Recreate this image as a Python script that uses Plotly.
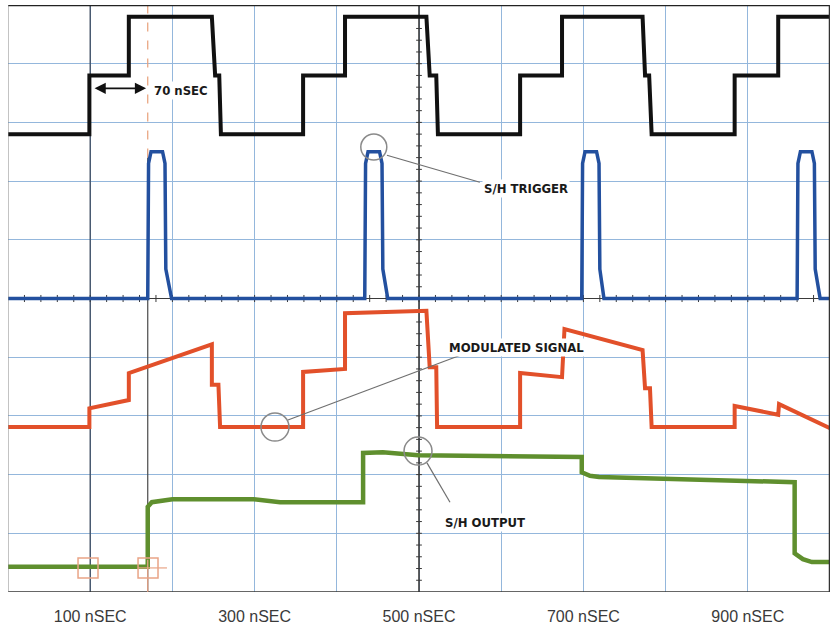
import numpy as np
import plotly.graph_objects as go

# ---- data (time in nSEC, amplitude in screen divisions 0..10) ----
clock_t = [0, 99, 99, 147, 147, 248, 252, 257, 259, 359, 359, 410, 410, 509, 513, 521, 523,
           623, 623, 674, 674, 772, 775, 780, 783, 884, 884, 937, 937, 1000]
clock_v = [7.8, 7.8, 8.8, 8.8, 9.8, 9.8, 8.8, 8.8, 7.8, 7.8, 8.8, 8.8, 9.8, 9.8, 8.8, 8.8, 7.8,
           7.8, 8.8, 8.8, 9.8, 9.8, 8.8, 8.8, 7.8, 7.8, 8.8, 8.8, 9.8, 9.8]

trig_t = [0, 170, 171, 174, 188, 191, 192, 199, 434, 435, 438, 452, 455, 456, 462,
          698, 699, 702, 716, 719, 720, 725, 960, 961, 964, 978, 981, 982, 988, 1000]
trig_v = [5.0, 5.0, 7.3, 7.5, 7.5, 7.3, 5.5, 5.0, 5.0, 7.3, 7.5, 7.5, 7.3, 5.5, 5.0,
          5.0, 7.3, 7.5, 7.5, 7.3, 5.5, 5.0, 5.0, 7.3, 7.5, 7.5, 7.3, 5.5, 5.0, 5.0]

mod_t = [0, 99, 99, 147, 147, 248, 248, 256, 258, 359, 359, 410, 410, 509, 513, 521, 522,
         623, 623, 674, 677, 772, 775, 781, 783, 884, 884, 937, 938, 1000]
mod_v = [2.81, 2.81, 3.13, 3.27, 3.73, 4.22, 3.53, 3.53, 2.81, 2.81, 3.75, 3.8, 4.75, 4.79, 3.83, 3.83, 2.81,
         2.81, 3.73, 3.66, 4.48, 4.12, 3.47, 3.47, 2.81, 2.81, 3.17, 3.02, 3.2, 2.79]

sh_t = [0, 170, 170, 175, 200, 299, 331, 432, 432, 456, 499, 698, 698, 708, 719, 957, 957, 967, 978, 1000]
sh_v = [0.43, 0.43, 1.45, 1.53, 1.58, 1.58, 1.53, 1.53, 2.37, 2.38, 2.33, 2.30, 2.04, 1.98, 1.96, 1.87,
        0.66, 0.56, 0.51, 0.51]

tick_vals = [0, 100, 200, 300, 400, 500, 600, 700, 800, 900, 1000]
tick_text = ["", "100 nSEC", "", "300 nSEC", "", "500 nSEC", "", "700 nSEC", "", "900 nSEC", ""]

X0, X1, Y0, Y1 = 0, 1000, 0, 10
GRID = "#94b7dc"
LABEL_FONT = dict(family="Liberation Sans Narrow, DejaVu Sans Condensed, Arial Narrow, sans-serif",
                  size=13, color="#1a1a1a")

fig = go.Figure()
fig.add_trace(go.Scatter(x=clock_t, y=clock_v, mode="lines", line=dict(color="#111111", width=4), name="CLOCK"))
fig.add_trace(go.Scatter(x=trig_t, y=trig_v, mode="lines", line=dict(color="#23509f", width=3.5), name="S/H TRIGGER"))
fig.add_trace(go.Scatter(x=mod_t, y=mod_v, mode="lines", line=dict(color="#e2502a", width=4), name="MODULATED SIGNAL"))
fig.add_trace(go.Scatter(x=sh_t, y=sh_v, mode="lines", line=dict(color="#5f8f2e", width=4.5), name="S/H OUTPUT"))

shapes = []
# dark reference lines
shapes.append(dict(type="line", x0=500, x1=500, y0=Y0, y1=Y1, line=dict(color="#3a3a3a", width=1.6), layer="between"))
shapes.append(dict(type="line", x0=X0, x1=X1, y0=5, y1=5, line=dict(color="#3a3a3a", width=1.2), layer="between"))
shapes.append(dict(type="line", x0=100, x1=100, y0=Y0, y1=Y1, line=dict(color="#3c4a5e", width=1.3), layer="between"))
shapes.append(dict(type="line", x0=170, x1=170, y0=Y0, y1=7.4, line=dict(color="#4a4a4a", width=1.2), layer="between"))
shapes.append(dict(type="line", x0=170, x1=170, y0=7.4, y1=Y1, line=dict(color="#e8a07a", width=1.2, dash="dash"), layer="between"))
# minor ticks on centre axes
for v in np.arange(0.2, 10, 0.2):
    shapes.append(dict(type="line", x0=496.5, x1=503.5, y0=v, y1=v, line=dict(color="#3a3a3a", width=1), layer="between"))
for t in np.arange(20, 1000, 20):
    shapes.append(dict(type="line", x0=t, x1=t, y0=4.94, y1=5.06, line=dict(color="#3a3a3a", width=1), layer="between"))
# frame
shapes.append(dict(type="line", x0=X0, x1=X1, y0=Y1, y1=Y1, line=dict(color="#222222", width=2.5), layer="above"))
shapes.append(dict(type="line", x0=X0, x1=X1, y0=Y0, y1=Y0, line=dict(color="#333333", width=1.6), layer="above"))
shapes.append(dict(type="line", x0=X0, x1=X0, y0=Y0, y1=Y1, line=dict(color="#888888", width=1), layer="above"))
shapes.append(dict(type="line", x0=X1, x1=X1, y0=Y0, y1=Y1, line=dict(color="#333333", width=2.5), layer="above"))
# orange markers
OR = "#e9a486"
shapes.append(dict(type="rect", x0=85.2, x1=109.5, y0=0.24, y1=0.58, line=dict(color=OR, width=1.5), layer="above"))
shapes.append(dict(type="rect", x0=158.2, x1=182.5, y0=0.24, y1=0.58, line=dict(color=OR, width=1.5), layer="above"))
shapes.append(dict(type="line", x0=158.2, x1=193.4, y0=0.41, y1=0.41, line=dict(color=OR, width=1.2), layer="above"))
shapes.append(dict(type="line", x0=170, x1=170, y0=0, y1=0.55, line=dict(color=OR, width=1.2), layer="above"))
# callout circles and leader lines
CG = "#8a8a8a"
for cx, cy, r in [(445, 7.58, 13), (324.8, 2.81, 14), (498.8, 2.40, 14)]:
    shapes.append(dict(type="circle", x0=cx - r / 0.822, x1=cx + r / 0.822, y0=cy - r / 58.7, y1=cy + r / 58.7,
                       line=dict(color=CG, width=1.5), layer="above"))
for a, b, c, d in [(461, 7.44, 574, 6.98), (340.6, 2.93, 553.5, 4.05), (509.7, 2.20, 537.7, 1.53)]:
    shapes.append(dict(type="line", x0=a, y0=b, x1=c, y1=d, line=dict(color="#6f6f6f", width=1.2), layer="above"))

annotations = [
    dict(x=175, y=8.55, text="<b>70 nSEC</b>", showarrow=False, xanchor="left", yanchor="middle", font=LABEL_FONT,
         bgcolor="white", borderpad=1),
    dict(x=576.6, y=6.88, text="<b>S/H TRIGGER</b>", showarrow=False, xanchor="left", yanchor="middle", font=LABEL_FONT,
         bgcolor="white", borderpad=1),
    dict(x=534, y=4.17, text="<b>MODULATED SIGNAL</b>", showarrow=False, xanchor="left", yanchor="middle", font=LABEL_FONT,
         bgcolor="white", borderpad=1),
    dict(x=529, y=1.19, text="<b>S/H OUTPUT</b>", showarrow=False, xanchor="left", yanchor="middle", font=LABEL_FONT,
         bgcolor="white", borderpad=1),
    dict(x=168, y=8.58, ax=103.5, ay=8.58, axref="x", ayref="y", xref="x", yref="y", text="",
         showarrow=True, arrowside="end+start", arrowhead=2, arrowsize=1.4, arrowwidth=1.6, arrowcolor="#111111"),
]

fig.update_layout(
    width=834, height=625,
    margin=dict(l=8, r=4, t=5, b=33),
    paper_bgcolor="white", plot_bgcolor="white",
    showlegend=False,
    shapes=shapes, annotations=annotations,
    xaxis=dict(range=[X0, X1], tickmode="array", tickvals=tick_vals, ticktext=tick_text,
               showgrid=True, gridcolor=GRID, gridwidth=1, zeroline=False, showline=False,
               ticks="outside", ticklen=10, tickcolor="rgba(0,0,0,0)", automargin=False,
               tickfont=dict(family="Liberation Sans, Arial, sans-serif", size=16, color="#3a3a3a")),
    yaxis=dict(range=[Y0, Y1], dtick=1, tick0=0, showgrid=True, gridcolor=GRID, gridwidth=1,
               zeroline=False, showticklabels=False, showline=False, automargin=False),
)

fig.write_html("out.html", config={"displayModeBar": False})

# remove the default page margin so the figure sits at the window's top-left corner
with open("out.html", "r", encoding="utf-8") as f:
    html = f.read()
html = html.replace("<head>", "<head><style>html,body{margin:0;padding:0;overflow:hidden;}</style>", 1)
with open("out.html", "w", encoding="utf-8") as f:
    f.write(html)
